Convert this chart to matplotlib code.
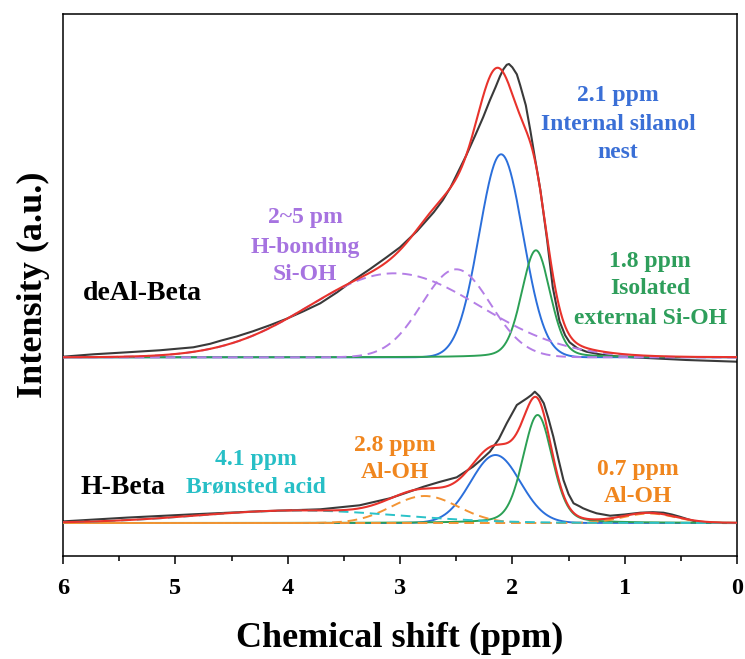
import numpy as np
import matplotlib
matplotlib.use("Agg")
import matplotlib.pyplot as plt

# ---------------- data ----------------
# measured spectra (ppm, intensity a.u.)
deal_ppm = [6.0, 5.73, 5.43, 5.14, 4.84, 4.69, 4.60, 4.45, 4.31, 4.16, 4.01, 3.86, 3.71, 3.56,
            3.415, 3.27, 3.12, 3.0, 2.85, 2.70, 2.62, 2.55, 2.48, 2.41, 2.33, 2.26, 2.20,
            2.15, 2.11, 2.08, 2.05, 2.03, 2.0, 1.96, 1.93, 1.88, 1.84, 1.80, 1.75,
            1.69, 1.64, 1.58, 1.53, 1.49, 1.42, 1.34, 1.2, 1.04, 0.75, 0.45, 0.0]
deal_int = [0.6, 3, 5, 7, 10, 13.5, 16.5, 21, 26, 32, 38.5, 46, 54, 65,
            77, 88, 100, 110, 126, 145, 157, 170, 186, 202, 222, 240, 257,
            270, 281, 288, 292.5, 293.3, 290, 283, 272, 252, 227, 200, 167,
            117, 70, 36, 22, 15, 9, 5.6, 2.5, 0.6, -1, -2.7, -4.4]

hbeta_ppm = [6.0, 5.43, 4.84, 4.25, 3.71, 3.36, 3.09, 2.95, 2.79, 2.65, 2.495, 2.35, 2.28,
             2.20, 2.12, 2.05, 1.96, 1.87, 1.83, 1.80, 1.76, 1.72, 1.68, 1.635, 1.59,
             1.545, 1.50, 1.455, 1.40, 1.37, 1.31, 1.25, 1.13, 1.0, 0.86, 0.75, 0.655,
             0.58, 0.51, 0.43, 0.36, 0.25, 0.12, 0.0]
hbeta_int = [1.6, 5.4, 8.7, 11.7, 13.7, 17.7, 24.7, 30, 36.3, 41, 45.7, 56.3, 63,
             71.3, 84, 99.7, 118, 124.7, 128, 131.3, 127, 119.7, 105, 86.3, 64,
             43, 29, 19.7, 16.6, 14.7, 12, 9.7, 7.3, 8.5, 10.3, 10.8, 10.3,
             8.5, 6.3, 3.5, 1.3, 0.4, 0, 0]

# fitted components: centre (ppm), FWHM (ppm), height (a.u.), Lorentzian fraction
deal_centers = [3.05, 2.50, 2.10, 1.79]
deal_fwhm    = [1.80, 0.72, 0.46, 0.30]
deal_height  = [84, 88, 203, 107]
deal_eta     = [0.0, 0.0, 0.0, 0.2]

hb_centers = [3.9, 2.78, 2.15, 1.775, 0.78]
hb_fwhm    = [2.1, 0.70, 0.52, 0.31, 0.55]
hb_height  = [12.5, 27, 68, 108, 9.5]
hb_eta     = [0.0, 0.0, 0.0, 0.25, 0.0]

sample_labels = ["deAl-Beta", "H-Beta"]
xticks = [6, 5, 4, 3, 2, 1, 0]

# ---------------- styling ----------------
plt.rcParams['font.family'] = ['Liberation Serif', 'DejaVu Serif']
plt.rcParams['font.weight'] = 'bold'

C_BLACK = '#3a3a3a'
C_RED = '#e8332c'
C_BLUE = '#2b6fdb'
C_GREEN = '#2ca055'
C_PURPLE = '#b47ee6'
C_ORANGE = '#f39434'
C_CYAN = '#2bc2c8'

T_BLUE = '#3a6fd6'
T_GREEN = '#2e9e5b'
T_PURPLE = '#a673e0'
T_CYAN = '#27bfc6'
T_ORANGE = '#f0861e'

OFF_DEAL = 165.7
OFF_HB = 0.0
DASH = (0, (5, 3))


def pv(x, c, w, h, eta):
    hw = w / 2.0
    u = (x - c) / hw
    return h * (eta / (1 + u ** 2) + (1 - eta) * np.exp(-np.log(2) * u ** 2))


x = np.linspace(0, 6, 1201)

fig = plt.figure(figsize=(7.45, 6.59), dpi=100)
ax = fig.add_axes([63 / 745, 1 - 556 / 659, 674 / 745, 542 / 659])

# ---- deAl-Beta ----
ax.plot(deal_ppm, np.array(deal_int) + OFF_DEAL, color=C_BLACK, lw=1.5, zorder=2)
dcomp = [pv(x, c, w, h, e) for c, w, h, e in zip(deal_centers, deal_fwhm, deal_height, deal_eta)]
ax.plot(x, dcomp[2] + OFF_DEAL, color=C_BLUE, lw=1.4, zorder=3)
ax.plot(x, dcomp[3] + OFF_DEAL, color=C_GREEN, lw=1.4, zorder=3)
ax.plot(x, dcomp[0] + OFF_DEAL, color=C_PURPLE, lw=1.4, ls=DASH, zorder=4)
ax.plot(x, dcomp[1] + OFF_DEAL, color=C_PURPLE, lw=1.4, ls=DASH, zorder=4)
ax.plot(x, np.sum(dcomp, axis=0) + OFF_DEAL, color=C_RED, lw=1.5, zorder=5)

# ---- H-Beta ----
ax.plot(hbeta_ppm, np.array(hbeta_int) + OFF_HB, color=C_BLACK, lw=1.5, zorder=2)
hcomp = [pv(x, c, w, h, e) for c, w, h, e in zip(hb_centers, hb_fwhm, hb_height, hb_eta)]
ax.plot(x, hcomp[2] + OFF_HB, color=C_BLUE, lw=1.4, zorder=3)
ax.plot(x, hcomp[3] + OFF_HB, color=C_GREEN, lw=1.4, zorder=3)
ax.plot(x, hcomp[1] + OFF_HB, color=C_ORANGE, lw=1.4, ls=DASH, zorder=4)
ax.plot(x, hcomp[4] + OFF_HB, color=C_ORANGE, lw=1.4, ls=DASH, zorder=4)
ax.plot(x, hcomp[0] + OFF_HB, color=C_CYAN, lw=1.4, ls=DASH, zorder=4)
ax.plot(x, np.sum(hcomp, axis=0) + OFF_HB, color=C_RED, lw=1.5, zorder=5)

# ---- axes ----
ax.set_xlim(6, 0)
ax.set_ylim(-33, 509)
ax.set_xticks(xticks)
ax.set_xticklabels([str(t) for t in xticks])
ax.set_xticks(np.arange(0.5, 6, 1.0), minor=True)
ax.set_yticks([])
ax.tick_params(axis='x', which='major', direction='out', length=5.5, width=1.1,
               labelsize=17.5, pad=10)
ax.tick_params(axis='x', which='minor', direction='out', length=3.8, width=1.1)
for s in ax.spines.values():
    s.set_linewidth(1.1)
for lab in ax.get_xticklabels():
    lab.set_fontweight('bold')

ax.set_xlabel("Chemical shift (ppm)", fontsize=26, fontweight='bold', labelpad=17)
ax.set_ylabel("Intensity (a.u.)", fontsize=26, fontweight='bold', labelpad=9)

# ---- annotations ----
fs = 17


def lines(xp, ys, texts, color, size=fs):
    for yy, tt in zip(ys, texts):
        ax.text(xp, yy, tt, color=color, fontsize=size, fontweight='bold',
                ha='center', va='center')


lines(1.06, [427, 398, 370], ["2.1 ppm", "Internal silanol", "nest"], T_BLUE)
lines(3.846, [305, 276, 248], ["2~5 pm", "H-bonding", "Si-OH"], T_PURPLE)
lines(0.774, [262, 234, 205], ["1.8 ppm", "Isolated", "external Si-OH"], T_GREEN)
lines(4.282, [63, 36], ["4.1 ppm", "Br\u00f8nsted acid"], T_CYAN)
lines(3.044, [78, 51], ["2.8 ppm", "Al-OH"], T_ORANGE)
lines(0.881, [54, 26], ["0.7 ppm", "Al-OH"], T_ORANGE)
ax.text(5.297, 230, sample_labels[0], color='black', fontsize=20, fontweight='bold',
        ha='center', va='center')
ax.text(5.466, 36, sample_labels[1], color='black', fontsize=20, fontweight='bold',
        ha='center', va='center')

fig.savefig("out.png", dpi=100)
